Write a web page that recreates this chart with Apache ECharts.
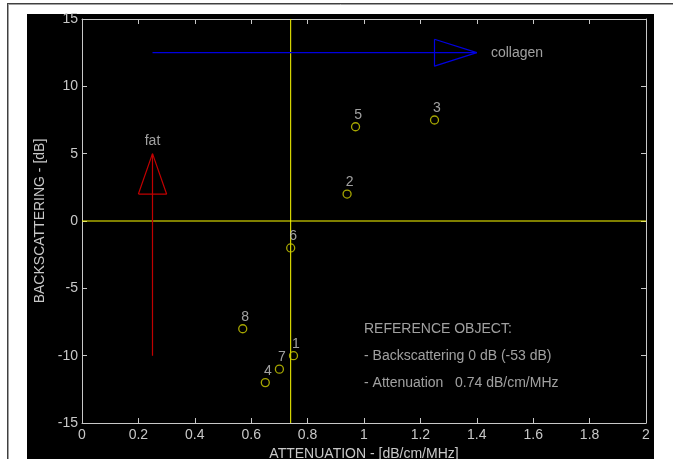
<!DOCTYPE html>
<html>
<head>
<meta charset="utf-8">
<script src="https://cdn.jsdelivr.net/npm/echarts@6/dist/echarts.min.js"></script>
<style>html,body{margin:0;padding:0;background:#fff;}#c{width:673px;height:459px;}</style>
</head>
<body>
<div id="c"></div>
<script>
// ---- data ----
const pointLabels = ['1', '2', '3', '4', '5', '6', '7', '8'];
const attenuation = [0.75, 0.94, 1.25, 0.65, 0.97, 0.74, 0.70, 0.57];
const backscattering = [-10, 2, 7.5, -12, 7, -2, -11, -8];

const refAttenuation = 0.74;
const refBackscattering = 0;

const xTicks = ['0', '0.2', '0.4', '0.6', '0.8', '1', '1.2', '1.4', '1.6', '1.8', '2'];
const yTicks = ['-15', '-10', '-5', '0', '5', '10', '15'];

const fatShaftX = [0.25, 0.25];
const fatShaftY = [-10, 5];
const fatHeadX = [0.2, 0.25, 0.3, 0.2];
const fatHeadY = [2, 5, 2, 2];

const collagenShaftX = [0.25, 1.4];
const collagenShaftY = [12.5, 12.5];
const collagenHeadX = [1.25, 1.4, 1.25, 1.25];
const collagenHeadY = [13.5, 12.5, 11.5, 13.5];

const noteTexts = ['fat', 'collagen', 'REFERENCE OBJECT:', '- Backscattering 0 dB (-53 dB)', '- Attenuation   0.74 dB/cm/MHz'];
const noteX = [0.25, 1.45, 1.0, 1.0, 1.0];
const noteY = [5.95, 12.5, -8, -10.05, -12.05];
const noteAlign = ['center', 'left', 'left', 'left', 'left'];

// ---- build ----
const zip = (xs, ys) => xs.map((x, i) => [x, ys[i]]);
const FONT = 'Liberation Sans, Arial, sans-serif';
const AX = '#c8c8c8';

const chart = echarts.init(document.getElementById('c'), null, {renderer: 'canvas'});

const axisCommon = {
  type: 'value',
  axisLine: {show: true, onZero: false, lineStyle: {color: AX, width: 1}},
  axisTick: {show: true, inside: true, length: 5, lineStyle: {color: AX}},
  splitLine: {show: false}
};

chart.setOption({
  animation: false,
  backgroundColor: '#ffffff',
  graphic: [
    {type: 'rect', shape: {x: 27, y: 14, width: 627, height: 445}, style: {fill: '#000'}, z: -10},
    {type: 'line', shape: {x1: 7, y1: 3.5, x2: 673, y2: 3.5}, style: {stroke: '#404040', lineWidth: 1}, z: -10},
    {type: 'line', shape: {x1: 8, y1: 4.5, x2: 673, y2: 4.5}, style: {stroke: '#a0a0a0', lineWidth: 1}, z: -10},
    {type: 'line', shape: {x1: 7.5, y1: 3, x2: 7.5, y2: 459}, style: {stroke: '#404040', lineWidth: 1}, z: -10},
    {type: 'line', shape: {x1: 8.5, y1: 4, x2: 8.5, y2: 459}, style: {stroke: '#a0a0a0', lineWidth: 1}, z: -10}
  ],
  grid: {left: 82, right: 27, top: 19, bottom: 36, containLabel: false, outerBoundsMode: 'none'},
  xAxis: [
    Object.assign({}, axisCommon, {
      position: 'bottom', min: 0, max: 2, interval: 0.2,
      name: 'ATTENUATION - [dB/cm/MHz]', nameLocation: 'middle', nameGap: 21,
      nameTextStyle: {color: AX, fontFamily: FONT, fontSize: 14},
      axisLabel: {color: AX, fontFamily: FONT, fontSize: 14, margin: 5,
        formatter: (v) => xTicks[Math.round(v / 0.2)]}
    }),
    Object.assign({}, axisCommon, {
      position: 'top', min: 0, max: 2, interval: 0.2, axisLabel: {show: false}
    })
  ],
  yAxis: [
    Object.assign({}, axisCommon, {
      position: 'left', min: -15, max: 15, interval: 5,
      name: 'BACKSCATTERING - [dB]', nameLocation: 'middle', nameGap: 31,
      nameTextStyle: {color: AX, fontFamily: FONT, fontSize: 14},
      axisLabel: {color: AX, fontFamily: FONT, fontSize: 14, margin: 4,
        formatter: (v) => yTicks[Math.round((v + 15) / 5)]}
    }),
    Object.assign({}, axisCommon, {
      position: 'right', min: -15, max: 15, interval: 5, axisLabel: {show: false}
    })
  ],
  series: [
    {type: 'line', data: [[refAttenuation, -15], [refAttenuation, 15]], symbol: 'none',
      lineStyle: {color: '#ffff00', width: 1}, silent: true, z: 3},
    {type: 'line', data: [[0, refBackscattering], [2, refBackscattering]], symbol: 'none',
      lineStyle: {color: '#ffff00', width: 1}, silent: true, z: 3},
    {type: 'line', data: zip(fatShaftX, fatShaftY), symbol: 'none',
      lineStyle: {color: '#c00000', width: 1.2}, silent: true, z: 3},
    {type: 'line', data: zip(fatHeadX, fatHeadY), symbol: 'none',
      lineStyle: {color: '#c00000', width: 1.2}, silent: true, z: 3},
    {type: 'line', data: zip(collagenShaftX, collagenShaftY), symbol: 'none',
      lineStyle: {color: '#0000e0', width: 1.2}, silent: true, z: 3},
    {type: 'line', data: zip(collagenHeadX, collagenHeadY), symbol: 'none',
      lineStyle: {color: '#0000e0', width: 1.2}, silent: true, z: 3},
    {type: 'scatter', z: 5,
      data: attenuation.map((x, i) => ({value: [x, backscattering[i]], name: pointLabels[i]})),
      symbol: 'circle', symbolSize: 8,
      itemStyle: {color: 'rgba(0,0,0,0)', borderColor: '#d0d000', borderWidth: 1.3},
      label: {show: true, position: 'top', distance: 0, offset: [2.5, 0], formatter: (p) => p.name,
        color: AX, fontFamily: FONT, fontSize: 14}
    },
    {type: 'scatter', z: 6, symbolSize: 0, silent: true,
      data: noteX.map((x, i) => ({value: [x, noteY[i]], name: noteTexts[i],
        label: {align: noteAlign[i]}})),
      label: {show: true, position: 'inside', formatter: (p) => p.name,
        color: AX, fontFamily: FONT, fontSize: 14, verticalAlign: 'middle'}
    }
  ]
});
</script>
</body>
</html>
